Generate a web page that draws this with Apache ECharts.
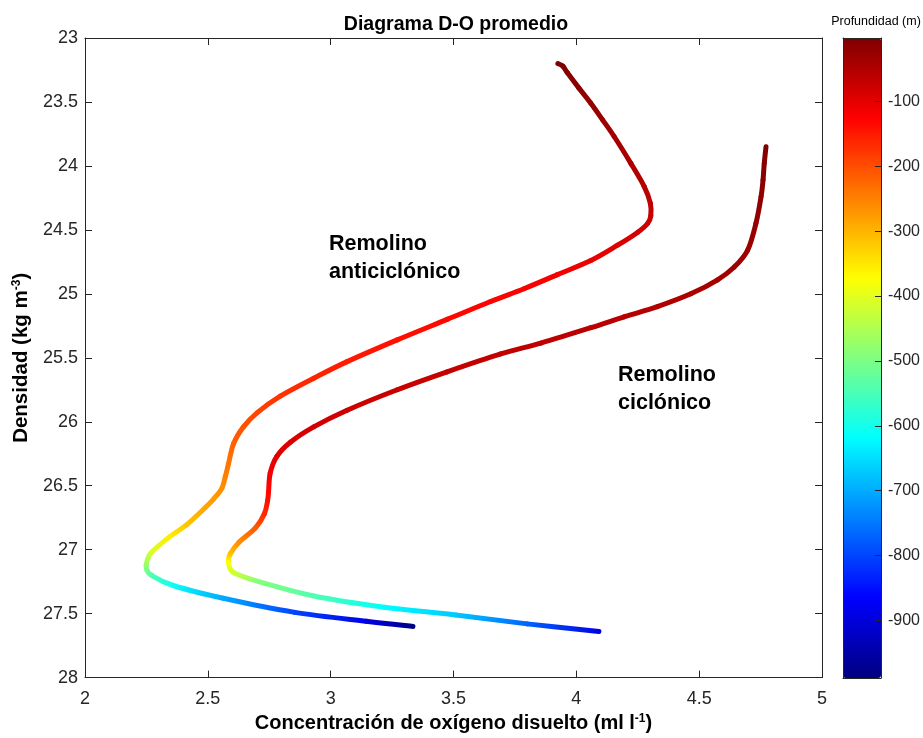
<!DOCTYPE html>
<html>
<head>
<meta charset="utf-8">
<script src="https://cdn.jsdelivr.net/npm/echarts@6/dist/echarts.min.js"></script>
<style>
  html, body { margin: 0; padding: 0; background: #fff; }
  #chart { width: 923px; height: 738px; }
</style>
</head>
<body>
<div id="chart"></div>
<script>
// ---------- Data ----------
// Remolino anticiclónico: oxygen (ml/l), density (kg m-3), depth (m)
const antiO2 = [3.925, 3.945, 3.963, 4.010, 4.059, 4.107, 4.154, 4.222, 4.276, 4.301, 4.303, 4.290, 4.249, 4.168, 4.059, 3.923, 3.787, 3.651, 3.474, 3.271, 3.067, 2.931, 2.795, 2.700, 2.645, 2.605, 2.584, 2.571, 2.557, 2.525, 2.490, 2.417, 2.344, 2.271, 2.256, 2.249, 2.252, 2.271, 2.359, 2.563, 2.854, 3.145, 3.335];
const antiDens = [23.20, 23.22, 23.27, 23.39, 23.51, 23.64, 23.77, 23.98, 24.16, 24.29, 24.39, 24.45, 24.52, 24.62, 24.74, 24.85, 24.96, 25.06, 25.20, 25.36, 25.53, 25.66, 25.80, 25.93, 26.04, 26.17, 26.33, 26.43, 26.52, 26.60, 26.67, 26.80, 26.90, 27.02, 27.07, 27.12, 27.16, 27.20, 27.28, 27.38, 27.49, 27.56, 27.60];
const antiProf = [-3, -5, -8, -15, -22, -29, -35, -45, -55, -63, -70, -75, -82, -92, -105, -115, -122, -127, -132, -140, -150, -160, -175, -190, -205, -220, -238, -250, -262, -275, -285, -315, -355, -410, -440, -470, -505, -540, -610, -700, -800, -890, -985];

// Remolino ciclónico
const cicloO2 = [4.772, 4.765, 4.760, 4.752, 4.731, 4.697, 4.643, 4.575, 4.466, 4.330, 4.194, 4.059, 3.855, 3.692, 3.474, 3.271, 3.067, 2.931, 2.836, 2.781, 2.754, 2.747, 2.743, 2.730, 2.694, 2.628, 2.592, 2.584, 2.606, 2.708, 2.927, 3.218, 3.509, 3.800, 4.092];
const cicloDens = [23.85, 23.98, 24.11, 24.24, 24.45, 24.66, 24.79, 24.89, 25.00, 25.10, 25.18, 25.265, 25.385, 25.47, 25.61, 25.75, 25.91, 26.04, 26.16, 26.27, 26.40, 26.55, 26.62, 26.72, 26.83, 26.94, 27.03, 27.10, 27.18, 27.25, 27.36, 27.45, 27.51, 27.58, 27.64];
const cicloProf = [-3, -8, -12, -16, -22, -28, -33, -38, -44, -50, -55, -58, -62, -65, -69, -72, -77, -82, -90, -100, -115, -130, -140, -165, -210, -260, -310, -375, -420, -490, -540, -620, -670, -770, -890];

// Axis settings / tick labels
const profTicks = [-900, -800, -700, -600, -500, -400, -300, -200, -100];
const profMin = -989;
const profMax = -2;
const jetColors = ['#000080', '#0000ff', '#0080ff', '#00ffff', '#80ff80', '#ffff00', '#ff8000', '#ff0000', '#800000'];

const curves = [
  { xs: antiO2, ys: antiDens, ps: antiProf },
  { xs: cicloO2, ys: cicloDens, ps: cicloProf }
];

function points(c) {
  return c.xs.map((x, i) => [x, c.ys[i], c.ps[i]]);
}

const FONT = "'Liberation Sans', Arial, Helvetica, sans-serif";
const AX = '#262626';

// Each point draws the smooth (Catmull-Rom) piece from the previous point to itself,
// stroked with a gradient between the two mapped depth colours.
function renderSeg(params, api) {
  const ctx = params.context;
  const i = params.dataIndex;
  const c = curves[params.seriesIndex];
  const p = api.coord([api.value(0), api.value(1)]);
  const col = api.visual('color');
  let el = null;
  if (i === 0) {
    ctx.prevPrev = null; ctx.prev = null; ctx.prevColor = null;
  }
  if (i > 0 && ctx.prev) {
    const p1 = ctx.prev;
    const p0 = ctx.prevPrev || p1;
    const p2 = p;
    const p3 = (i + 1 < c.xs.length) ? api.coord([c.xs[i + 1], c.ys[i + 1]]) : p2;
    const cp1 = [p1[0] + (p2[0] - p0[0]) / 6, p1[1] + (p2[1] - p0[1]) / 6];
    const cp2 = [p2[0] - (p3[0] - p1[0]) / 6, p2[1] - (p3[1] - p1[1]) / 6];
    el = {
      type: 'bezierCurve',
      shape: { x1: p1[0], y1: p1[1], x2: p2[0], y2: p2[1], cpx1: cp1[0], cpy1: cp1[1], cpx2: cp2[0], cpy2: cp2[1] },
      style: {
        fill: 'none',
        stroke: new echarts.graphic.LinearGradient(p1[0], p1[1], p2[0] + 0.01, p2[1] + 0.01,
          [{ offset: 0, color: ctx.prevColor }, { offset: 1, color: col }], true),
        lineWidth: 5,
        lineCap: 'round'
      }
    };
  }
  ctx.prevPrev = ctx.prev;
  ctx.prev = p;
  ctx.prevColor = col;
  return el;
}

const chart = echarts.init(document.getElementById('chart'), null, { renderer: 'canvas' });

const lineStyle = { color: AX, width: 1 };
const supStyle = { fontFamily: FONT, fontSize: 12, fontWeight: 'bold', color: '#000', verticalAlign: 'top', padding: [0, 0, 9, 0] };

const option = {
  backgroundColor: '#ffffff',
  animation: false,
  title: {
    text: 'Diagrama D-O promedio',
    left: 451,
    top: 10,
    textAlign: 'center',
    textStyle: { fontFamily: FONT, fontSize: 19.5, fontWeight: 'bold', color: '#000' }
  },
  grid: [
    { left: 85, top: 38, width: 737, height: 640, containLabel: false },
    { left: 843, top: 38, width: 38, height: 640, containLabel: false }
  ],
  xAxis: [
    {
      gridIndex: 0, type: 'value', min: 2, max: 5, interval: 0.5, position: 'bottom',
      axisLine: { show: true, onZero: false, lineStyle },
      axisTick: { show: true, inside: true, length: 7, lineStyle },
      axisLabel: { show: true, margin: 12, color: AX, fontFamily: FONT, fontSize: 18 },
      splitLine: { show: false },
      name: 'Concentración de oxígeno disuelto (ml l{sup|-1})',
      nameLocation: 'middle', nameGap: 29,
      nameTextStyle: {
        fontFamily: FONT, fontSize: 20, fontWeight: 'bold', color: '#000',
        rich: { sup: supStyle }
      }
    },
    {
      gridIndex: 0, type: 'value', min: 2, max: 5, interval: 0.5, position: 'top',
      axisLine: { show: true, onZero: false, lineStyle },
      axisTick: { show: true, inside: true, length: 7, lineStyle },
      axisLabel: { show: false },
      splitLine: { show: false }
    },
    {
      gridIndex: 1, type: 'value', min: 0, max: 1, position: 'bottom', z: 10,
      axisLine: { show: true, onZero: false, lineStyle },
      axisTick: { show: false }, axisLabel: { show: false }, splitLine: { show: false }
    },
    {
      gridIndex: 1, type: 'value', min: 0, max: 1, position: 'top', z: 10,
      axisLine: { show: true, onZero: false, lineStyle },
      axisTick: { show: false }, axisLabel: { show: false }, splitLine: { show: false }
    }
  ],
  yAxis: [
    {
      gridIndex: 0, type: 'value', min: 23, max: 28, interval: 0.5, inverse: true, position: 'left',
      axisLine: { show: true, onZero: false, lineStyle },
      axisTick: { show: true, inside: true, length: 7, lineStyle },
      axisLabel: { show: true, margin: 7, color: AX, fontFamily: FONT, fontSize: 18 },
      splitLine: { show: false },
      name: 'Densidad (kg m{sup|-3})',
      nameLocation: 'middle', nameGap: 46, nameRotate: 90,
      nameTextStyle: {
        fontFamily: FONT, fontSize: 20.5, fontWeight: 'bold', color: '#000',
        rich: { sup: supStyle }
      }
    },
    {
      gridIndex: 0, type: 'value', min: 23, max: 28, interval: 0.5, inverse: true, position: 'right',
      axisLine: { show: true, onZero: false, lineStyle },
      axisTick: { show: true, inside: true, length: 7, lineStyle },
      axisLabel: { show: false },
      splitLine: { show: false }
    },
    {
      gridIndex: 1, type: 'value', min: profMin, max: profMax, position: 'right', z: 10,
      axisLine: { show: true, onZero: false, lineStyle },
      axisTick: { show: true, inside: true, length: 6, lineStyle, customValues: profTicks },
      axisLabel: { show: true, margin: 7, color: AX, fontFamily: FONT, fontSize: 16, customValues: profTicks },
      splitLine: { show: false }
    },
    {
      gridIndex: 1, type: 'value', min: profMin, max: profMax, position: 'left', z: 10,
      axisLine: { show: true, onZero: false, lineStyle },
      axisTick: { show: false }, axisLabel: { show: false }, splitLine: { show: false }
    }
  ],
  visualMap: {
    type: 'continuous',
    min: profMin,
    max: profMax,
    dimension: 2,
    seriesIndex: [0, 1],
    calculable: false,
    realtime: false,
    orient: 'vertical',
    left: 843,
    top: 38,
    itemWidth: 38,
    itemHeight: 640,
    padding: 0,
    text: null,
    showLabel: false,
    hoverLink: false,
    inRange: { color: jetColors }
  },
  series: [
    {
      name: 'Remolino anticiclónico',
      type: 'custom',
      xAxisIndex: 0, yAxisIndex: 0,
      dimensions: ['o2', 'dens', 'prof'],
      encode: { x: 0, y: 1 },
      renderItem: renderSeg,
      data: points(curves[0])
    },
    {
      name: 'Remolino ciclónico',
      type: 'custom',
      xAxisIndex: 0, yAxisIndex: 0,
      dimensions: ['o2', 'dens', 'prof'],
      encode: { x: 0, y: 1 },
      renderItem: renderSeg,
      data: points(curves[1])
    }
  ],
  graphic: [
    {
      type: 'text', left: 329, top: 230,
      style: { text: 'Remolino\nanticiclónico', font: "bold 21.5px 'Liberation Sans', Arial, sans-serif", fill: '#000', lineHeight: 28 }
    },
    {
      type: 'text', left: 618, top: 361,
      style: { text: 'Remolino\nciclónico', font: "bold 21.5px 'Liberation Sans', Arial, sans-serif", fill: '#000', lineHeight: 28 }
    },
    {
      type: 'text', x: 876, y: 22,
      style: { text: 'Profundidad (m)', font: "12.5px 'Liberation Sans', Arial, sans-serif", fill: '#000', align: 'center', verticalAlign: 'middle' }
    }
  ]
};

chart.setOption(option);
</script>
</body>
</html>
